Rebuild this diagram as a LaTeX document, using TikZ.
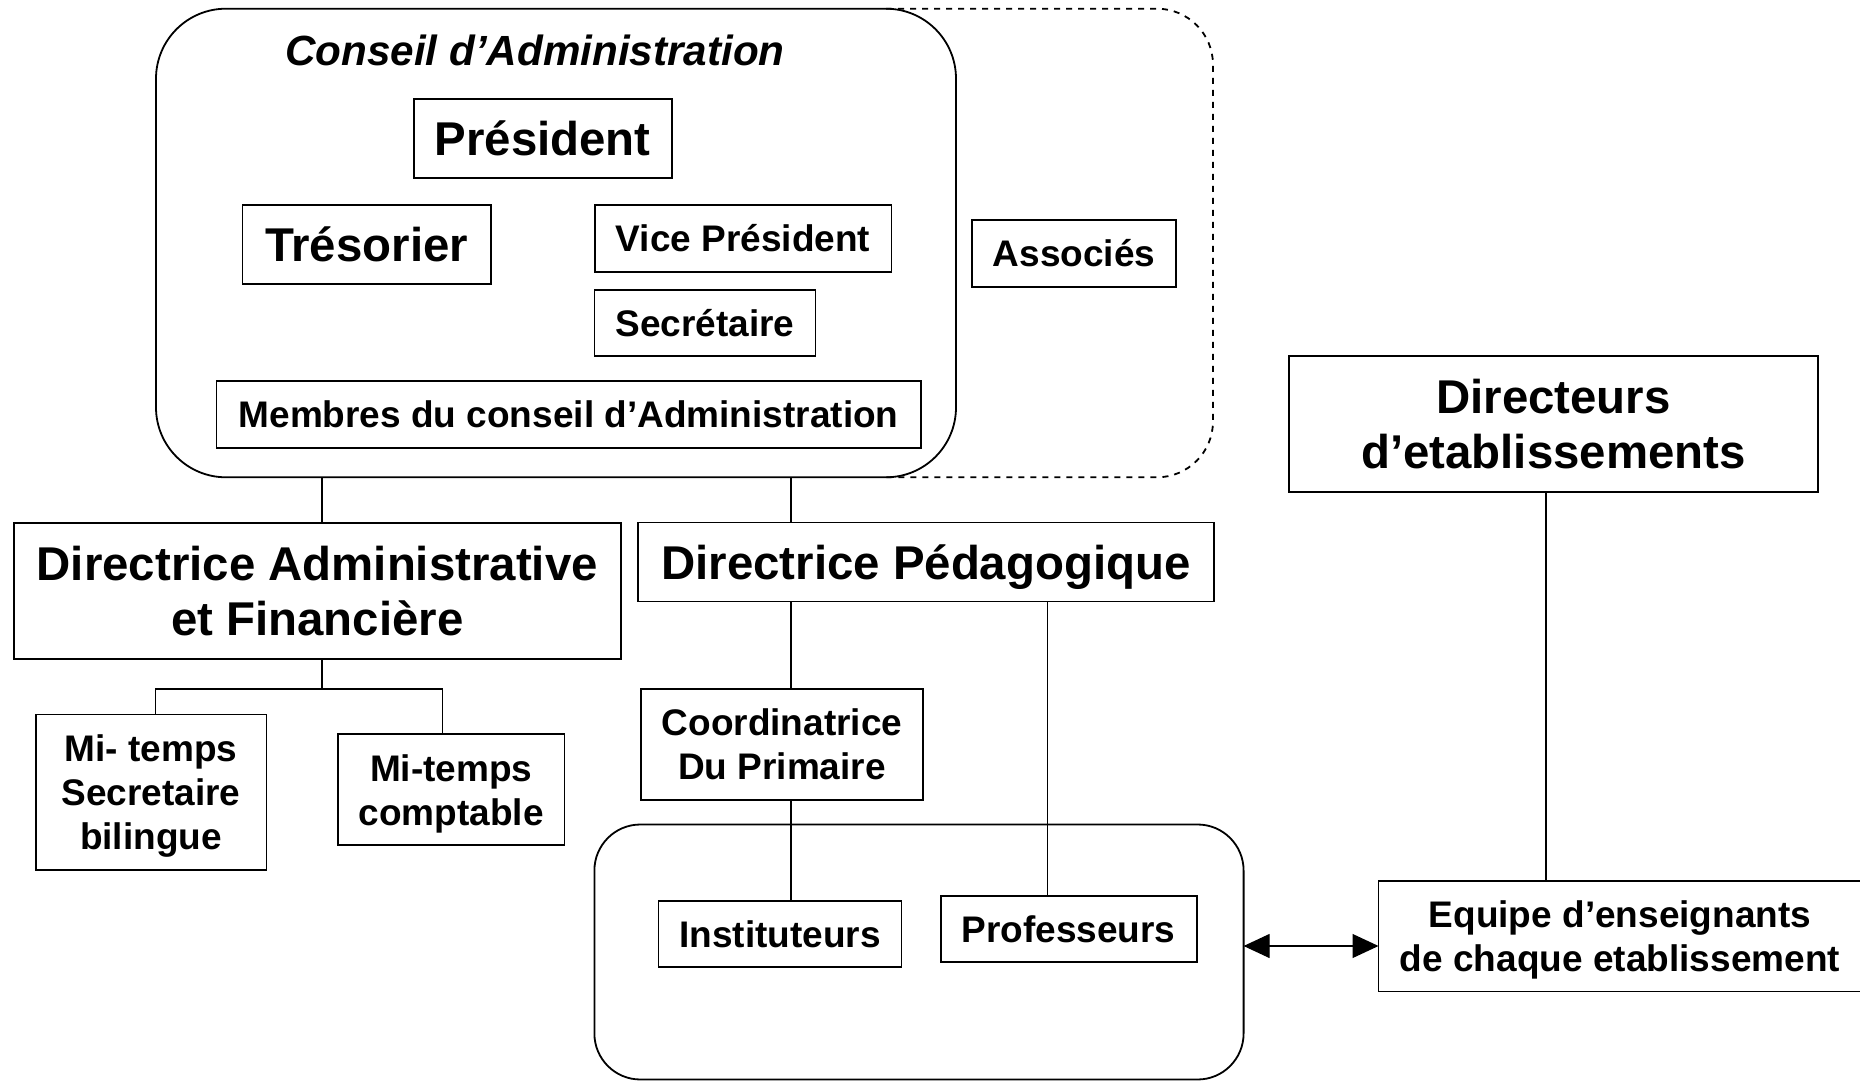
\documentclass[tikz,border=0pt]{standalone}
\usepackage{fontspec}
\setmainfont{Liberation Sans}
\usetikzlibrary{arrows.meta, calc}

\begin{document}
\begin{tikzpicture}[x=0.5pt, y=-0.5pt,
    box/.style={draw, line width=0.9pt, inner sep=0pt, outer sep=0pt, align=center,
        font=\fontsize{18.5}{22}\selectfont\bfseries},
    bigbox/.style={box, font=\fontsize{23.7}{27.5}\selectfont\bfseries},
    groupbox/.style={draw, line width=0.9pt, inner sep=0pt, outer sep=0pt, fill=white, rounded corners=#1},
    nodepth/.style={text depth=0pt},
    link/.style={line width=0.6pt},
    biarrow/.style={link, {Triangle[length=13pt,width=12pt]}-{Triangle[length=13pt,width=12pt]}}]
    \useasboundingbox (0,0) rectangle (1860,1081);

    % conseil and associates
    \node[groupbox=35pt, minimum width=400pt, minimum height=234.3pt] (conseil) at (556,243) {};
    \draw[line width=0.9pt, dashed, rounded corners=28pt]
        ([xshift=-35pt]conseil.north east) -- (1213,8.7) -- (1213,477.3) -- ([xshift=-35pt]conseil.south east);
    \node[font=\fontsize{21.1}{25}\selectfont\bfseries\itshape] (ca) at (535,50) {Conseil d’Administration};
    \node[bigbox, minimum width=129pt, minimum height=39.5pt] (pres) at (542.7,138.5) {Président};
    \node[bigbox, minimum width=124.2pt, minimum height=39.5pt] (tres) at (366.6,244.5) {Trésorier};
    \node[box, minimum width=148.4pt, minimum height=33.4pt] (vice) at (743,238.3) {Vice Président};
    \node[box, minimum width=110.5pt, minimum height=33.3pt] (secr) at (705,323) {Secrétaire};
    \node[box, minimum width=352.2pt, minimum height=33.5pt] (memb) at (568.6,414.2) {Membres du conseil d’Administration};
    \node[box, minimum width=102pt, minimum height=33.4pt] (assoc) at (1074,253.3) {Associés};

    % directions
    \node[bigbox, minimum width=303.7pt, minimum height=68.2pt] (daf) at (317.3,591) {Directrice Administrative\\et Financière};
    \node[bigbox, nodepth, minimum width=288pt, minimum height=39.5pt] (dp) at (926,562) {Directrice Pédagogique};
    \node[bigbox, minimum width=264.7pt, minimum height=68pt] (dir) at (1553.4,424) {Directeurs\\d’etablissements};

    \node[box, nodepth, minimum width=115.4pt, minimum height=77.8pt] (mtsec) at (151,792.3) {Mi- temps\\Secretaire\\bilingue};
    \node[box, nodepth, minimum width=113.2pt, minimum height=55.4pt] (mtcomp) at (451.2,789.6) {Mi-temps\\comptable};
    \node[box, minimum width=141pt, minimum height=55.4pt] (coord) at (782,744.3) {Coordinatrice\\Du Primaire};

    % teachers
    \node[groupbox=23pt, minimum width=324.6pt, minimum height=127.5pt] (ecole) at (919,952) {};
    \node[box, minimum width=121.5pt, minimum height=33.2pt] (instit) at (780,933.8) {Instituteurs};
    \node[box, minimum width=128pt, minimum height=33.1pt] (prof) at (1068.6,929) {Professeurs};
    \node[box, nodepth, minimum width=241.5pt, minimum height=55.4pt] (equipe) at (1620,936) {Equipe d’enseignants\\de chaque etablissement};

    % connectors
    \coordinate (ax) at (322,0);
    \coordinate (px) at (791,0);
    \coordinate (rx) at (1047.5,0);
    \coordinate (sx) at (155.5,0);
    \coordinate (cx) at (442.5,0);
    \coordinate (dx) at (1546,0);
    \coordinate (fork) at (322,689);
    \coordinate (arr) at (0,946);

    \draw[link] (conseil.south -| ax) -- (daf.north -| ax);
    \draw[link] (conseil.south -| px) -- (dp.north -| px);
    \draw[link] (daf.south -| ax) -- (fork);
    \draw[link] (mtsec.north -| sx) |- (fork) -| (mtcomp.north -| cx);
    \draw[link] (dp.south -| px) -- (coord.north -| px);
    \draw[link] (coord.south -| px) -- (instit.north -| px);
    \draw[link] (dp.south -| rx) -- (prof.north -| rx);
    \draw[link] (dir.south -| dx) -- (equipe.north -| dx);
    \draw[biarrow] (ecole.east |- arr) -- (equipe.west |- arr);
\end{tikzpicture}
\end{document}
